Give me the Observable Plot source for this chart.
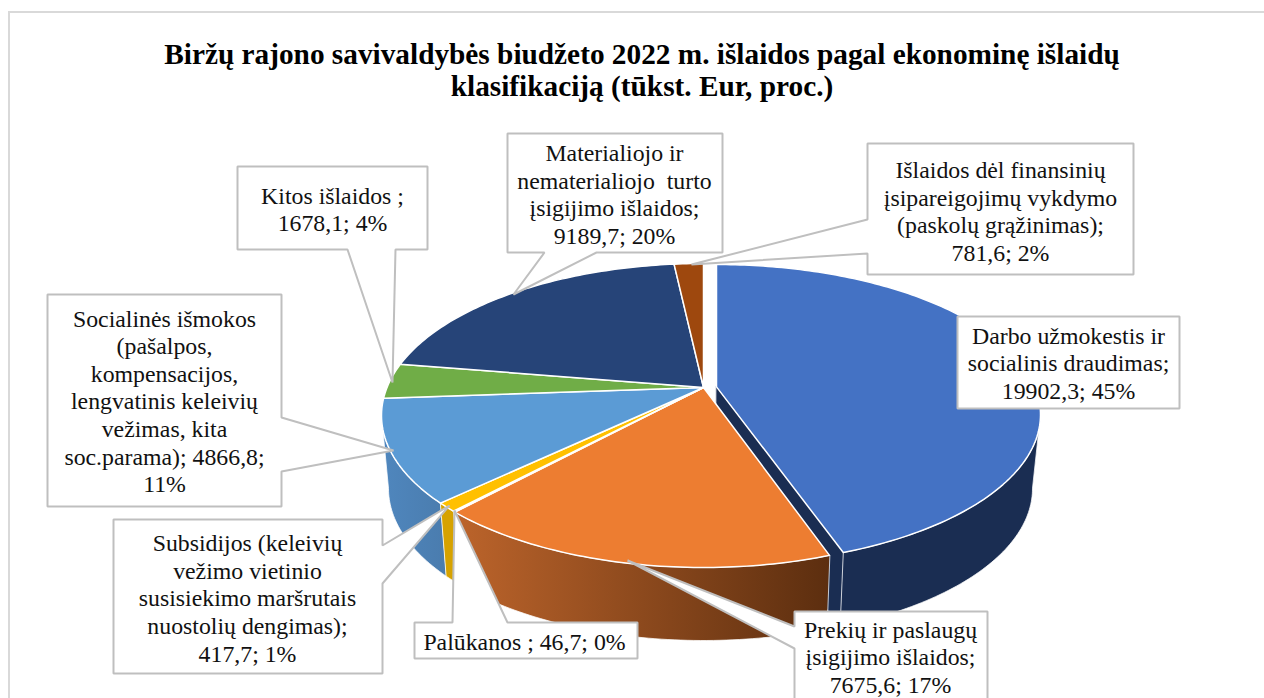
<!DOCTYPE html>
<html lang="lt">
<head>
<meta charset="utf-8">
<style>
html,body{margin:0;padding:0;background:#fff;overflow:hidden}
svg{display:block}
</style>
<script src="https://cdn.jsdelivr.net/npm/d3@7"></script>
<script src="https://cdn.jsdelivr.net/npm/@observablehq/plot@0.6"></script>
</head>
<body>
<script>
// ---- data ----
const categories = ["Darbo užmokestis", "Prekės ir paslaugos", "Palūkanos", "Subsidijos", "Socialinės išmokos", "Kitos išlaidos", "Materialusis turtas", "Finansiniai įsipareigojimai"];
const values = [19902.3, 7675.6, 46.7, 417.7, 4866.8, 1678.1, 9189.7, 781.6];
const titleText = "Biržų rajono savivaldybės biudžeto 2022 m. išlaidos pagal ekonominę išlaidų\nklasifikaciją (tūkst. Eur, proc.)";
const labelTexts = [
  "Darbo užmokestis ir\nsocialinis draudimas;\n19902,3; 45%",
  "Prekių ir paslaugų\nįsigijimo išlaidos;\n7675,6; 17%",
  "Palūkanos ; 46,7; 0%",
  "Subsidijos (keleivių\nvežimo vietinio\nsusisiekimo maršrutais\nnuostolių dengimas);\n417,7; 1%",
  "Socialinės išmokos\n(pašalpos,\nkompensacijos,\nlengvatinis keleivių\nvežimas, kita\nsoc.parama); 4866,8;\n11%",
  "Kitos išlaidos ;\n1678,1; 4%",
  "Materialiojo ir\nnematerialiojo\u00a0 turto\nįsigijimo išlaidos;\n9189,7; 20%",
  "Išlaidos dėl finansinių\nįsipareigojimų vykdymo\n(paskolų grąžinimas);\n781,6; 2%"
];

// ---- styles and layout ----
const topColors = ["#4472C4", "#ED7D31", "#A5A5A5", "#FFC000", "#5B9BD5", "#70AD47", "#264478", "#9E480E"];
const wallColors = ["#1A2D52", "url(#orangeWall)", "#8c8c8c", "#D6A200", "url(#blueWall)", "#5f9239", "#1f3864", "#7f3a0b"];
const labelCentres = [[1068,362],[890,656],[524,641],[247,597],[164,400],[332,208],[614,193],[1000,210]];
const callouts = [
  [[957,316],[1179,316],[1179,408],[957,408]],
  [[794,611],[987,611],[987,705],[794,705],[794,648],[627,560],[794,626]],
  [[414,622],[452,622],[454,510],[507,622],[637,622],[637,658],[414,658]],
  [[113,519],[382,519],[382,545],[449,505],[382,583],[382,673],[113,673]],
  [[47,294],[281,294],[281,417],[393,450],[281,471],[281,506],[47,506]],
  [[237,166],[427,166],[427,249],[395,249],[392,382],[347,249],[237,249]],
  [[507,133],[722,133],[722,252],[596,252],[513,294],[544,252],[507,252]],
  [[867,143],[1133,143],[1133,274],[867,274],[867,253],[691,264],[867,219]]
];

const pieTop = {cx:703, cy:415, rx:322, ry:152};
const pieBottom = {cx:703, cy:488, rx:315, ry:152};
const blueTop = {cx:716, cy:414, rx:324, ry:150};
const blueBottom = {cx:716, cy:488, rx:316, ry:150};
const apexShift = 0.184; // perspective: where the pie centre falls inside the ellipse

// ---- geometry from the values ----
const total = d3.sum(values);
const cum = d3.cumsum(values).map(v => v / total * 360);
const angles = values.map((v, i) => [i ? cum[i-1] : 0, cum[i]]);
function project(deg, g) {
  const t = deg * Math.PI / 180, X = Math.sin(t), Y = Math.cos(t), w = 1 + apexShift * Y;
  return {x: g.cx + g.rx * X * Math.sqrt(1 - apexShift*apexShift) / w,
          y: g.cy - g.ry * (Y + apexShift) / w};
}
const apex = g => ({x: g.cx, y: g.cy - g.ry * apexShift});
function arc(a0, a1, g) {
  const n = Math.max(2, Math.ceil(a1 - a0));
  return d3.range(n + 1).map(k => project(a0 + (a1 - a0) * k / n, g));
}
const tag = (pts, i, fill) => pts.map(p => ({...p, slice: i, fill}));
const geomTop = i => i === 0 ? blueTop : pieTop;
const geomBottom = i => i === 0 ? blueBottom : pieBottom;

// the outer wall only shows between the two side extremes of the ellipse
const sideAngle = Math.acos(-apexShift) * 180 / Math.PI;
const wallOrder = [4, 3, 1, 0];
const walls = wallOrder.flatMap(i => {
  const a0 = Math.max(angles[i][0], sideAngle), a1 = Math.min(angles[i][1], 360 - sideAngle);
  return tag([...arc(a0, a1, geomTop(i)), ...arc(a0, a1, geomBottom(i)).reverse()], i, wallColors[i]);
});
const cutFace = tag([
  apex(blueTop), project(angles[0][1], blueTop),
  project(angles[0][1], blueBottom), apex(blueBottom)
], 0, wallColors[0]);
const faces = values.flatMap((v, i) => tag([
  apex(geomTop(i)), ...arc(angles[i][0], angles[i][1], geomTop(i))
], i, topColors[i]));

const boxes = callouts.flatMap((pts, i) => pts.map(([x, y]) => ({x, y, id: i})));
const labels = labelTexts.map((text, i) => ({text, x: labelCentres[i][0], y: labelCentres[i][1], category: categories[i]}));

const gradients = () => {
  const defs = d3.create("svg:defs");
  const add = (id, x1, x2, c1, c2) => {
    const g = defs.append("linearGradient").attr("id", id).attr("gradientUnits", "userSpaceOnUse")
      .attr("x1", x1).attr("x2", x2).attr("y1", 0).attr("y2", 0);
    g.append("stop").attr("offset", 0).attr("stop-color", c1);
    g.append("stop").attr("offset", 1).attr("stop-color", c2);
  };
  add("orangeWall", 455, 830, "#BC642B", "#5C2E0F");
  add("blueWall", 385, 445, "#4F86BD", "#4A7CAE");
  return defs.node();
};

const chart = Plot.plot({
  width: 1264, height: 698, margin: 0,
  x: {domain: [0, 1264], axis: null},
  y: {domain: [698, 0], axis: null},
  color: {type: "identity"},
  marks: [
    gradients,
    Plot.rect([{x1: 9, x2: 1280, y1: 12, y2: 720}], {x1: "x1", x2: "x2", y1: "y1", y2: "y2", fill: "white", stroke: "#D9D9D9", strokeWidth: 2}),
    Plot.text([titleText], {x: 641.5, y: 69, text: d => d, fontFamily: "Liberation Serif", fontWeight: "bold", fontSize: 29.3, lineHeight: 1.12, fill: "black"}),
    Plot.line(cutFace, {x: "x", y: "y", z: "slice", fill: "fill", stroke: "#1A2D52", strokeWidth: 0.5, curve: "linear-closed"}),
    Plot.line(walls, {x: "x", y: "y", z: "slice", fill: "fill", stroke: "#ffffff", strokeOpacity: 0.75, strokeWidth: 1, curve: "linear-closed"}),
    Plot.line(faces, {x: "x", y: "y", z: "slice", fill: "fill", stroke: "#ffffff", strokeWidth: 1.5, curve: "linear-closed"}),
    Plot.line(boxes, {x: "x", y: "y", z: "id", fill: "white", stroke: "#BFBFBF", strokeWidth: 2, strokeLinejoin: "miter", curve: "linear-closed"}),
    Plot.text(labels, {x: "x", y: "y", text: "text", fontFamily: "Liberation Serif", fontSize: 23.8, lineHeight: 1.16, fill: "#111"})
  ]
});
document.body.appendChild(chart);
</script>
</body>
</html>
